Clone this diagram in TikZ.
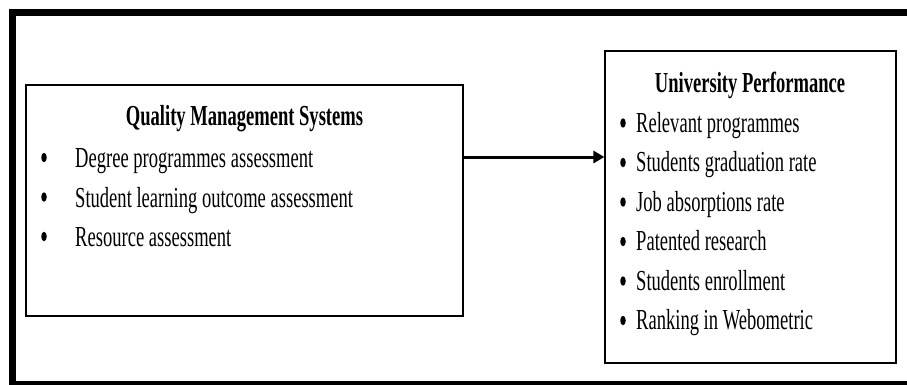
\documentclass[tikz,border=0pt]{standalone}
\usepackage{fontspec}
\setmainfont[FakeStretch=0.64]{Liberation Serif}
\usetikzlibrary{arrows.meta,shapes.geometric}
\begin{document}
\begin{tikzpicture}[x=1pt,y=-1pt,
  frameline/.style={line width=7pt},
  boxstyle/.style={draw, line width=1.2pt, rectangle, inner sep=0pt},
  txt/.style={font=\fontsize{29}{33}\selectfont, inner sep=0pt, anchor=base west},
  ttl/.style={font=\fontsize{29}{33}\selectfont\bfseries, inner sep=0pt, anchor=base},
  bul/.style={ellipse, fill=black, inner sep=0pt, minimum width=5.5pt, minimum height=9.5pt},
  conn/.style={line width=3pt, -{Triangle[length=11pt,width=12pt]}}]
\useasboundingbox (0,0) rectangle (907,385);
% outer frame (top, left, bottom visible)
\coordinate (f1) at (920,12.5);
\coordinate (f2) at (12.5,12.5);
\coordinate (f3) at (12.5,384.5);
\coordinate (f4) at (920,384.5);
\draw[frameline] (f1) -- (f2) -- (f3) -- (f4);
% boxes
\node[boxstyle, minimum width=437pt, minimum height=231pt] (qms) at (244.5,200.5) {};
\node[boxstyle, minimum width=291pt, minimum height=312pt] (up) at (750.5,207) {};
% left texts
\node[ttl] (qmsT) at (244.5,125) {Quality Management Systems};
\node[bul] (b1) at (44,157.5) {};
\node[txt] (l1) at (75,167.5) {Degree programmes assessment};
\node[bul] (b2) at (44,197) {};
\node[txt] (l2) at (75,207) {Student learning outcome assessment};
\node[bul] (b3) at (44,236.5) {};
\node[txt] (l3) at (75,246.5) {Resource assessment};
% right texts
\node[ttl] (upT) at (750,92.5) {University Performance};
\node[bul] (r1b) at (623,123) {};
\node[txt] (r1) at (636,132) {Relevant programmes};
\node[bul] (r2b) at (623,162.5) {};
\node[txt] (r2) at (636,171.5) {Students graduation rate};
\node[bul] (r3b) at (623,202) {};
\node[txt] (r3) at (636,211) {Job absorptions rate};
\node[bul] (r4b) at (623,241.5) {};
\node[txt] (r4) at (636,250.5) {Patented research};
\node[bul] (r5b) at (623,281) {};
\node[txt] (r5) at (636,290) {Students enrollment};
\node[bul] (r6b) at (623,320.5) {};
\node[txt] (r6) at (636,329.5) {Ranking in Webometric};
% connector
\draw[conn] (qms.east |- 0,157) -- (up.west |- 0,157);
\end{tikzpicture}
\end{document}
